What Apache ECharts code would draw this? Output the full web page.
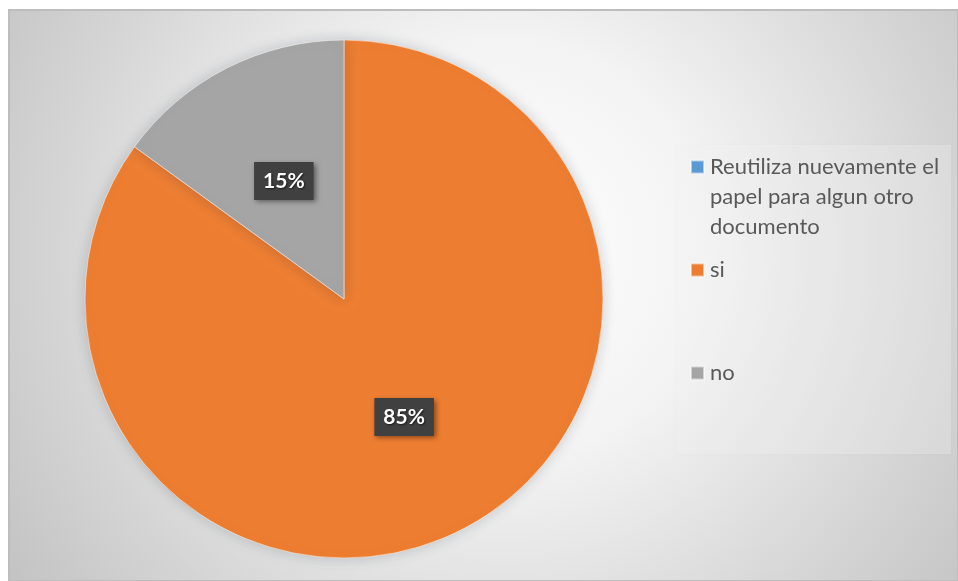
<!DOCTYPE html>
<html><head><meta charset="utf-8">
<script src="https://cdn.jsdelivr.net/npm/echarts@6/dist/echarts.min.js"></script>
<style>html,body{margin:0;padding:0;background:#fff}#c{width:958px;height:581px}</style>
</head><body><div id="c"></div>
<script>
const categories = ['Reutiliza nuevamente el papel para algun otro documento', 'si', 'no'];
const legendLabels = ['Reutiliza nuevamente el\npapel para algun otro\ndocumento', 'si', 'no'];
const values = [0, 85, 15];
const colors = ['#5B9BD5', '#ED7D31', '#A5A5A5'];

const chart = echarts.init(document.getElementById('c'), null, {renderer: 'canvas'});
const legendTops = [92, 255, 358];
const font = 'Lato, "Noto Sans", sans-serif';
const legends = categories.map((name, i) => ({
  data: [name],
  orient: 'vertical',
  left: 690,
  top: legendTops[i],
  itemWidth: 13,
  itemHeight: 13,
  icon: 'rect',
  padding: 0,
  selectedMode: false,
  formatter: () => (i === 0 ? '\n\n' : '') + legendLabels[i],
  textStyle: {fontFamily: font, fontSize: 22, color: '#595959', lineHeight: 30, padding: [0, 0, 0, 1]}
}));

chart.setOption({
  animation: false,
  color: colors,
  graphic: [
    {type: 'rect', z: -10, shape: {x: 9, y: 10, width: 949, height: 571},
     style: {fill: {type: 'radial', x: 0.52, y: 0.42, r: 1.05,
       colorStops: [{offset: 0, color: '#ffffff'}, {offset: 0.35, color: '#f3f3f3'}, {offset: 0.75, color: '#d4d4d4'}, {offset: 1, color: '#c2c2c2'}]},
       stroke: '#bdbdbd', lineWidth: 2}},
    {type: 'rect', z: -5, shape: {x: 677, y: 145, width: 274, height: 309},
     style: {fill: 'rgba(255,255,255,0.25)', shadowBlur: 2, shadowColor: 'rgba(0,0,0,0.08)'}}
  ],
  legend: legends,
  series: [{
    type: 'pie',
    center: [344, 299],
    radius: 259,
    startAngle: 90,
    clockwise: true,
    silent: true,
    itemStyle: {borderColor: 'rgba(255,255,255,0.5)', borderWidth: 1, shadowBlur: 14, shadowColor: 'rgba(60,70,90,0.25)'},
    label: {
      position: 'inside',
      formatter: '{d}%',
      color: '#ffffff',
      fontFamily: font,
      fontWeight: 'bold',
      fontSize: 21,
      backgroundColor: '#404040',
      padding: [9, 9, 8, 9],
      textShadowColor: 'rgba(0,0,0,0.6)',
      textShadowBlur: 2,
      textShadowOffsetX: 1,
      textShadowOffsetY: 1,
      shadowColor: 'rgba(0,0,0,0.45)',
      shadowBlur: 5,
      shadowOffsetX: 2,
      shadowOffsetY: 2
    },
    labelLine: {show: false},
    data: categories.map((name, i) => ({name, value: values[i], label: values[i] === 0 ? {show: false} : undefined}))
  }]
});
</script></body></html>
